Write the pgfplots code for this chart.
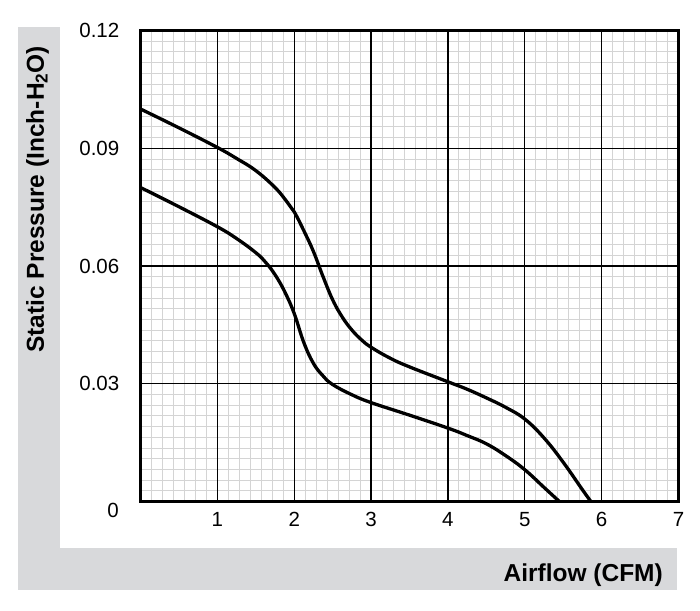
\documentclass[border=0pt]{standalone}
\usepackage{fontspec}
\setmainfont{Liberation Sans}
\usepackage{pgfplots}
\pgfplotsset{compat=1.18}
\definecolor{bandgray}{RGB}{216,217,219}
\definecolor{minorgray}{RGB}{212,212,212}
\begin{document}
\begin{tikzpicture}
\path[use as bounding box, fill=white] (-140.5bp,-109.5bp) rectangle (559.5bp,501.5bp);
\fill[bandgray] (-122.5bp,-88.5bp) rectangle (-80.5bp,474.5bp);
\fill[bandgray] (-122.5bp,-88.5bp) rectangle (536.5bp,-46.5bp);
\begin{axis}[
  at={(0,0)}, anchor=south west,
  scale only axis, width=538bp, height=471bp,
  xmin=0, xmax=7, ymin=0, ymax=0.12,
  xtick={0,1,2,3,4,5,6,7}, xticklabels={{},1,2,3,4,5,6,7},
  ytick={0,0.03,0.06,0.09,0.12}, yticklabels={{},0.03,0.06,0.09,0.12},
  minor x tick num=6, minor y tick num=10,
  minor grid style={minorgray, line width=0.9bp},
  xminorgrids=true, yminorgrids=true,
  xmajorgrids=false, ymajorgrids=false,
  axis line style={line width=3bp},
  major tick length=0pt, minor tick length=0pt,
  scaled y ticks=false,
  tick label style={font=\fontsize{20.5bp}{24bp}\selectfont},
  xticklabel style={inner sep=0pt, anchor=north, yshift=-10.5bp},
  yticklabel style={inner sep=0pt, anchor=east, xshift=-21bp},
]
\foreach \gx in {1,...,6} {
  \edef\tmp{\noexpand\draw[black, line width=1.4bp] (axis cs:\gx,0) -- (axis cs:\gx,0.12);}
  \tmp
}
\foreach \gy in {0.03,0.06,0.09} {
  \edef\tmp{\noexpand\draw[black, line width=1.4bp] (axis cs:0,\gy) -- (axis cs:7,\gy);}
  \tmp
}
\addplot[black, no markers, line width=3.3bp, smooth, tension=0.7] coordinates {
(0,0.1000) (0.5,0.0952) (1,0.0902) (1.25,0.0874) (1.5,0.0843) (1.75,0.0800)
(1.9,0.0765) (2,0.0738) (2.125,0.0690) (2.25,0.0637) (2.375,0.0573) (2.5,0.0514)
(2.625,0.0470) (2.75,0.0437) (2.875,0.0412) (3,0.0393) (3.25,0.0365)
(3.5,0.0343) (4,0.0305) (4.25,0.0286) (4.5,0.0264) (4.75,0.0240) (5,0.0210)
(5.25,0.0162) (5.5,0.0100) (5.75,0.0030) (5.86,0)
};
\addplot[black, no markers, line width=3.3bp, smooth, tension=0.7] coordinates {
(0,0.0800) (0.5,0.0751) (1,0.0700) (1.25,0.0670) (1.5,0.0634) (1.625,0.0610)
(1.75,0.0578) (1.875,0.0535) (2,0.0479) (2.125,0.0405) (2.25,0.0352)
(2.375,0.0320) (2.5,0.0298) (2.75,0.0272) (3,0.0252) (3.5,0.0220)
(4,0.0187) (4.25,0.0168) (4.5,0.0147) (4.75,0.0117) (5,0.0081) (5.25,0.0036) (5.45,0)
};
\end{axis}
\node[anchor=east, inner sep=0pt, font=\fontsize{20.5bp}{24bp}\selectfont] at (-21.5bp,-9bp) {0};
\node[rotate=90, anchor=west, inner sep=0pt, font=\fontsize{24.5bp}{28bp}\selectfont\bfseries] at (-103bp,148.5bp) {Static Pressure (Inch-H\textsubscript{2}O)};
\node[anchor=base east, inner sep=0pt, font=\fontsize{24.5bp}{28bp}\selectfont\bfseries] at (522.5bp,-79.5bp) {Airflow (CFM)};
\end{tikzpicture}
\end{document}
